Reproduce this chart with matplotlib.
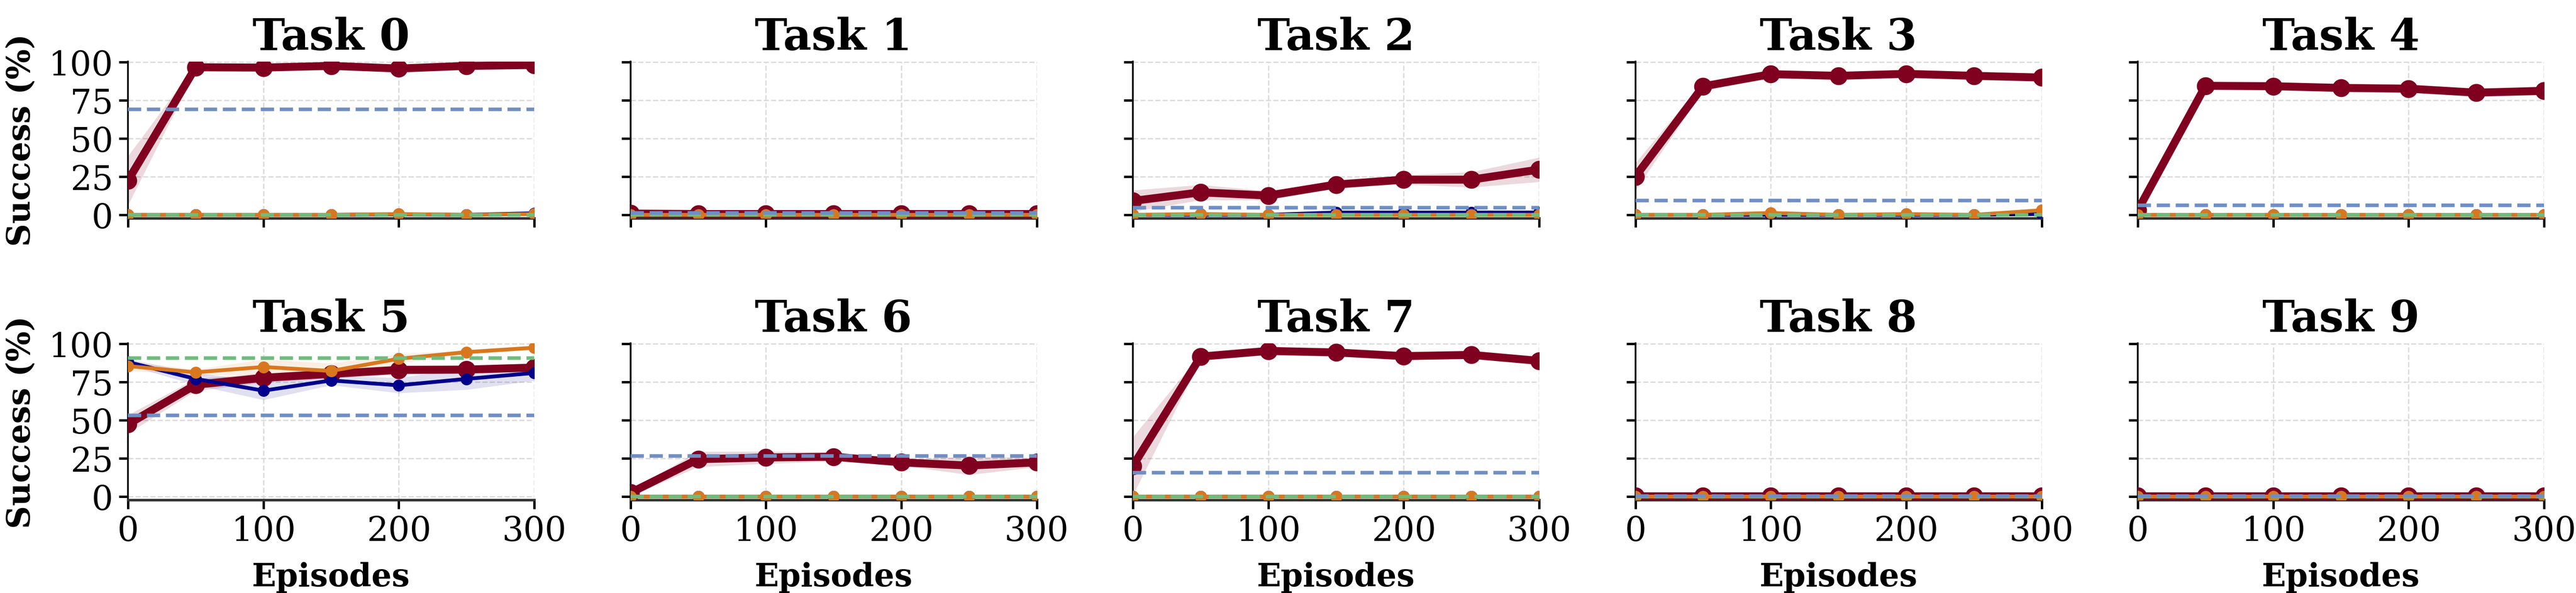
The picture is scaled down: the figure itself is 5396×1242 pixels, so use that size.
"""Per-task success curves: 2x5 grid of small line plots with bands."""

import numpy as np
import matplotlib
matplotlib.use('Agg')
import matplotlib.pyplot as plt

# ---- data -----------------------------------------------------------------
episodes = [0, 50, 100, 150, 200, 250, 300]
task_names = [f'Task {i}' for i in range(10)]

# main method (dark red, thick)
ours_mean = [
    [22.5, 96.5, 96.3, 97.4, 95.7, 97.4, 98.0],
    [0.8, 0.5, 0.5, 0.5, 0.5, 0.5, 0.5],
    [9.1, 14.7, 12.6, 19.8, 23.0, 23.0, 29.6],
    [25.0, 84.0, 92.0, 90.9, 92.2, 90.9, 89.8],
    [3.0, 84.4, 84.1, 83.0, 82.5, 79.9, 81.1],
    [47.4, 73.2, 77.7, 80.3, 82.9, 83.1, 84.4],
    [2.5, 24.5, 25.6, 26.1, 22.4, 20.3, 22.4],
    [20.1, 91.6, 95.3, 94.3, 91.9, 92.7, 88.8],
    [0.3, 0.3, 0.3, 0.3, 0.3, 0.3, 0.3],
    [0.3, 0.3, 0.3, 0.3, 0.3, 0.3, 0.3],
]
ours_std = [
    [16, 2, 1, 1, 1, 1, 1],
    [0.5, 0.3, 0.3, 0.3, 0.3, 0.3, 0.3],
    [7, 5, 3, 2, 3, 5, 8],
    [9, 3, 1, 1, 1.5, 1, 2],
    [2, 1, 1, 1, 1, 2, 3],
    [6, 4, 3, 3, 3, 2.5, 2.5],
    [2, 5, 4, 3, 2, 6, 3],
    [19, 2, 1, 1.5, 2, 1, 2],
    [0.3, 0.3, 0.3, 0.3, 0.3, 0.3, 0.3],
    [0.3, 0.3, 0.3, 0.3, 0.3, 0.3, 0.3],
]

# second method (navy, thin)
navy_mean = [
    [0, 0, 0, 0, 0.3, 0, 1.0],
    [0, 0, 0, 0, 0, 0, 0],
    [0, 0, 0, 1.5, 1.5, 1.5, 1.5],
    [0, 0, 0, 0, 0, 0, 0.5],
    [0, 0, 0, 0, 0, 0, 0],
    [88.0, 77.0, 69.3, 76.0, 72.8, 77.0, 80.9],
    [0, 0, 0, 0, 0, 0, 0],
    [0, 0, 0, 0, 0, 0, 0],
    [0, 0, 0, 0, 0, 0, 0],
    [0, 0, 0, 0, 0, 0, 0],
]
navy_std = [
    [0.3] * 7, [0.3] * 7, [0.3] * 7, [0.3] * 7, [0.3] * 7,
    [2, 4, 6, 3, 5, 7, 5],
    [0.3] * 7, [0.3] * 7, [0.3] * 7, [0.3] * 7,
]

# third method (orange, thin)
orange_mean = [
    [0, 0, 0, 0, 0.5, 0, 0.5],
    [0, 0, 0, 0, 0, 0, 0],
    [0, 0.5, 0, 0, 0, 0, 0],
    [0, 0, 1.2, 0, 0.5, 0, 3.0],
    [0, 0, 0, 0, 0, 0, 0],
    [85.4, 81.3, 84.8, 82.2, 90.2, 94.5, 97.4],
    [0, 0, 0, 0, 0, 0, 0],
    [0, 0, 0, 0, 0, 0, 0],
    [0, 0, 0, 0, 0, 0, 0],
    [0, 0, 0, 0, 0, 0, 0],
]
orange_std = [
    [0.3] * 7, [0.3] * 7, [0.3] * 7, [0.3, 0.3, 1, 0.3, 0.5, 0.3, 1.5],
    [0.3] * 7,
    [3, 2, 5, 5, 3, 1.5, 1.5],
    [0.3] * 7, [0.3] * 7, [0.3] * 7, [0.3] * 7,
]

# constant reference levels (dashed)
ref_blue = [69.0, 1.3, 4.7, 9.4, 6.3, 53.1, 26.5, 15.7, 0.4, 0.4]
ref_green = [0.0, 0.0, 0.0, 0.0, 0.0, 90.7, 0.0, 0.0, 0.0, 0.0]

# ---- style -----------------------------------------------------------------
RED = '#800020'
NAVY = '#00008b'
ORANGE = '#d9771e'
BLUE_REF = '#6f8ec4'
GREEN_REF = '#6dbd7c'

plt.rcParams['font.family'] = ['DejaVu Serif']
plt.rcParams['axes.linewidth'] = 0.9


def plot_task(ax, i):
    x = np.asarray(episodes)

    m, s = np.asarray(ours_mean[i]), np.asarray(ours_std[i])
    ax.fill_between(x, m - s, m + s, color=RED, alpha=0.15, lw=0)
    ax.plot(x, m, color=RED, lw=4.0, marker='o', ms=8, zorder=3)

    m, s = np.asarray(navy_mean[i]), np.asarray(navy_std[i])
    ax.fill_between(x, m - s, m + s, color=NAVY, alpha=0.12, lw=0)
    ax.plot(x, m, color=NAVY, lw=1.9, marker='o', ms=5, zorder=4)

    m, s = np.asarray(orange_mean[i]), np.asarray(orange_std[i])
    ax.fill_between(x, m - s, m + s, color=ORANGE, alpha=0.12, lw=0)
    ax.plot(x, m, color=ORANGE, lw=1.9, marker='o', ms=5, zorder=5)

    ax.axhline(ref_green[i], color=GREEN_REF, ls='--', lw=1.8, zorder=6)
    ax.axhline(ref_blue[i], color=BLUE_REF, ls='--', lw=1.8, zorder=7)

    ax.set_xlim(0, 300)
    ax.set_ylim(-2.1, 100.3)
    ax.set_xticks([0, 100, 200, 300])
    ax.set_yticks([0, 25, 50, 75, 100])
    ax.grid(True, ls='--', lw=0.7, color='#dddddd')
    ax.set_axisbelow(True)
    ax.set_title(task_names[i], fontsize=22, fontweight='bold', pad=6)

    for side in ('top', 'right'):
        ax.spines[side].set_visible(False)
    ax.spines['left'].set_color('#111111')
    ax.spines['bottom'].set_color('#333333')
    ax.spines['bottom'].set_linewidth(1.3)
    ax.tick_params(direction='out', length=4.5, width=1.2, labelsize=17,
                   pad=3)


def main():
    fig = plt.figure(figsize=(17.99, 4.143))
    gs = fig.add_gridspec(2, 5, left=0.0497, right=0.9874, top=0.8957,
                          bottom=0.157, wspace=0.237, hspace=0.80)
    for i in range(10):
        r, c = divmod(i, 5)
        ax = fig.add_subplot(gs[r, c])
        plot_task(ax, i)
        if r == 0:
            ax.tick_params(labelbottom=False)
        else:
            ax.set_xlabel('Episodes', fontsize=16, fontweight='bold',
                          labelpad=7)
        if c == 0:
            ax.set_ylabel('Success (%)', fontsize=16, fontweight='bold',
                          labelpad=6)
        else:
            ax.tick_params(labelleft=False)

    fig.savefig('out.png', dpi=300)
    plt.close(fig)


if __name__ == '__main__':
    main()
